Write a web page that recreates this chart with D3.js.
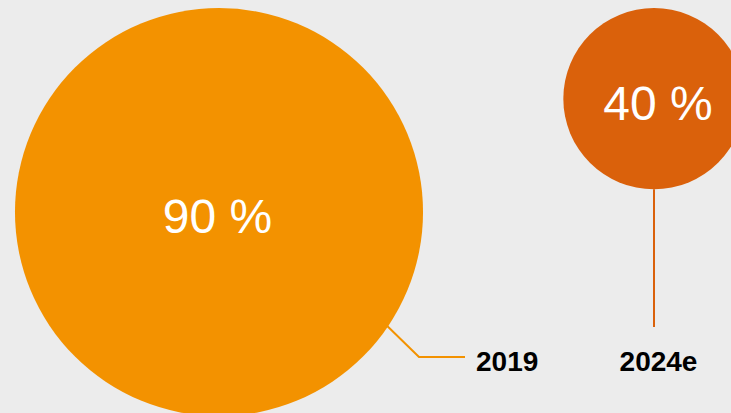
<!DOCTYPE html>
<html>
<head>
<meta charset="utf-8">
<script src="https://cdn.jsdelivr.net/npm/d3@7"></script>
<style>
  html, body { margin: 0; padding: 0; background: #ececec; }
  svg { display: block; }
</style>
</head>
<body>
<svg id="chart" width="731" height="413"></svg>
<script>
const categories = ["2019", "2024e"];
const values = [90, 40];
const valueLabels = ["90 %", "40 %"];
const colors = ["#f39200", "#da610b"];

const svg = d3.select("#chart");
const W = 731, H = 413, topY = 8;

svg.append("rect").attr("width", W).attr("height", H).attr("fill", "#ececec");

const r = d3.scaleLinear().domain([0, 100]).range([0, 226.7]);
const x = d3.scaleOrdinal().domain(categories).range([219, 654]);

const data = categories.map((c, i) => ({ cat: c, v: values[i], label: valueLabels[i], color: colors[i] }));

const g = svg.append("g");

g.selectAll("circle").data(data).join("circle")
  .attr("cx", d => x(d.cat))
  .attr("cy", d => topY + r(d.v))
  .attr("r", d => r(d.v))
  .attr("fill", d => d.color);

g.selectAll("text.val").data(data).join("text")
  .attr("class", "val")
  .attr("x", (d, i) => x(d.cat) + (i === 0 ? -1.5 : 4))
  .attr("y", d => topY + r(d.v) + 21)
  .attr("text-anchor", "middle")
  .attr("fill", "#ffffff")
  .attr("font-family", "Liberation Sans, Arial, sans-serif")
  .attr("font-size", 48)
  .text(d => d.label);

// leader lines
const labelY = 357;
const d0 = data[0];
const cx0 = x(d0.cat), cy0 = topY + r(d0.v), rr0 = r(d0.v);
const ang = Math.atan2(113, 169);
g.append("polyline")
  .attr("points", [
    [cx0 + rr0 * Math.cos(ang) - 6, cy0 + rr0 * Math.sin(ang) - 4],
    [419, labelY],
    [465, labelY]
  ].map(p => p.join(",")).join(" "))
  .attr("fill", "none")
  .attr("stroke", d0.color)
  .attr("stroke-width", 2);

const d1 = data[1];
g.append("line")
  .attr("x1", x(d1.cat)).attr("x2", x(d1.cat))
  .attr("y1", topY + 2 * r(d1.v)).attr("y2", 327)
  .attr("stroke", d1.color)
  .attr("stroke-width", 2);

g.append("text")
  .attr("x", 476).attr("y", 371)
  .attr("text-anchor", "start")
  .attr("font-family", "Liberation Sans, Arial, sans-serif")
  .attr("font-weight", "bold")
  .attr("font-size", 28)
  .attr("fill", "#000")
  .text(categories[0]);

g.append("text")
  .attr("x", 658.5).attr("y", 371)
  .attr("text-anchor", "middle")
  .attr("font-family", "Liberation Sans, Arial, sans-serif")
  .attr("font-weight", "bold")
  .attr("font-size", 28)
  .attr("fill", "#000")
  .text(categories[1]);
</script>
</body>
</html>
